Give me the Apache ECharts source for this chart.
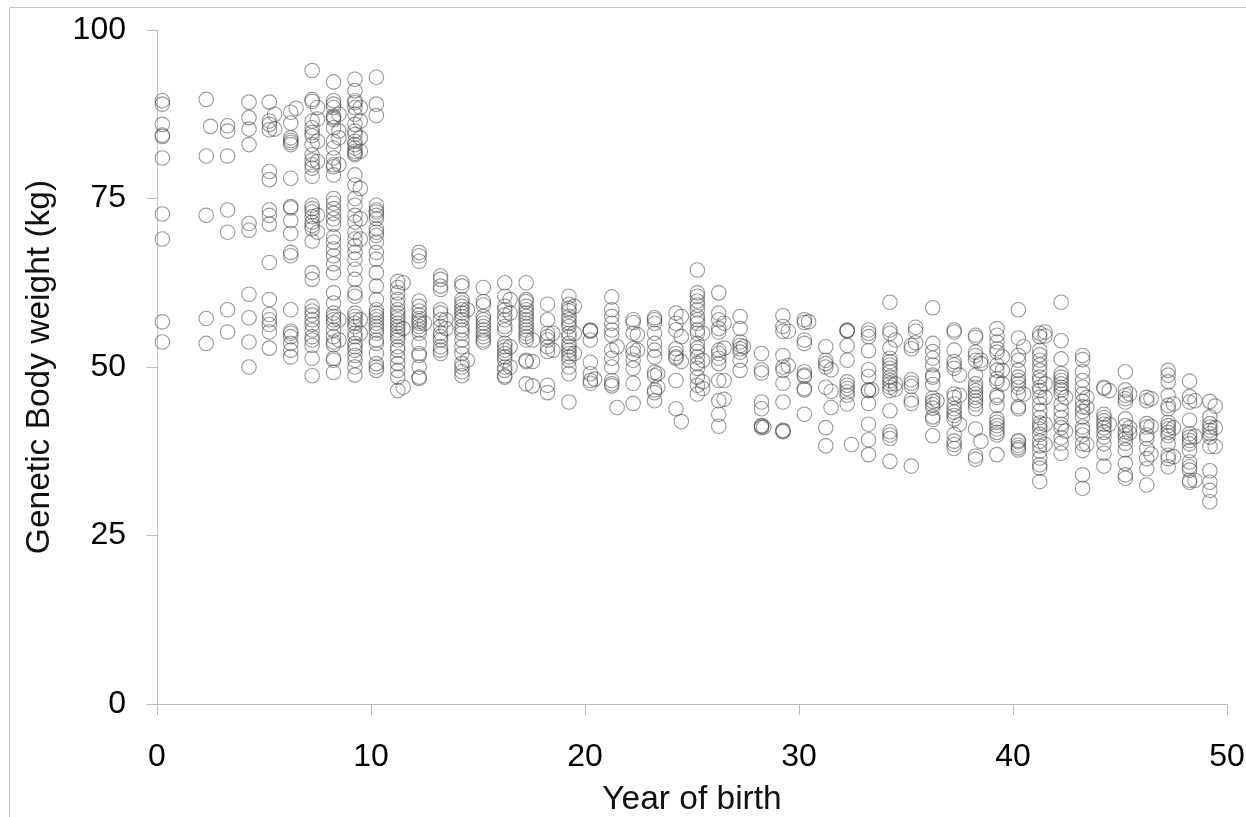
<!DOCTYPE html>
<html>
<head>
<meta charset="utf-8">
<style>html,body{margin:0;padding:0;background:#fff;overflow:hidden}#c{width:1246px;height:817px;filter:blur(0.45px)}</style>
<script src="https://cdn.jsdelivr.net/npm/echarts@6/dist/echarts.min.js"></script>
</head>
<body>
<div id="c"></div>
<script>
const xTicks = [0, 10, 20, 30, 40, 50];
const yTicks = [0, 25, 50, 75, 100];
const xTitle = "Year of birth";
const yTitle = "Genetic Body weight (kg)";

const birthYears = [
  0.25, 2.3, 2.5, 3.3, 4.3, 5.25, 5.5, 6.25, 6.5, 7.25, 7.5, 8.25, 8.5, 9.25, 9.5, 10.25,
  11.25, 11.5, 12.25, 12.5, 13.25, 13.5, 14.25, 14.5, 15.25, 16.25, 16.5, 17.25, 17.55, 18.25, 18.5,
  19.25, 19.5, 20.25, 20.45, 21.25, 21.5, 22.25, 22.45, 23.25, 23.4, 24.25, 24.5, 25.25, 25.5, 26.25, 26.5,
  27.25, 27.4, 28.25, 28.35, 29.25, 29.5, 30.25, 30.45, 31.25, 31.5, 32.25, 32.45, 33.25, 33.4,
  34.25, 34.5, 35.25, 35.45, 36.25, 36.45, 37.25, 37.5, 38.25, 38.5, 39.25, 39.5, 40.25, 40.5,
  41.25, 41.5, 42.25, 42.45, 43.25, 43.45, 44.25, 44.5, 45.25, 45.45, 46.25, 46.45, 47.25, 47.5,
  48.25, 48.5, 49.2, 49.45
];
const weightsByBirthYear = [
  [89.5,89,86,84.4,84.2,81,72.7,69,56.7,53.7],
  [89.7,81.3,72.5,57.2,53.5],
  [85.7],
  [85.8,85,81.3,73.3,70,58.5,55.2],
  [89.3,87,85.3,83,71.3,70.3,60.8,57.3,53.7,50],
  [89.3,86.5,86,85.2,79,77.8,73.3,72.5,71.2,65.5,60,57.8,57,56.3,55.2,52.8],
  [87.5,85.3],
  [87.8,86.2,84,83.6,83.3,83,78,73.8,73.6,71.7,69.8,67,66.5,58.5,55.3,55,54.5,53.5,52.5,51.5],
  [88.4],
  [94,89.7,89.4,86.5,85.5,84.8,84.3,83,81.5,80.7,80,79.5,78.3,74,73.5,73,72.3,71.5,71,70.5,68.7,64,63,59,58.3,57.7,57,56.3,55.5,54.5,54,53.2,51.3,48.7],
  [88.5,86.8,83.5,80.5,72.5,70],
  [92.3,89.5,89,88.5,87.2,87,86.7,85.5,83.5,82.5,81,80,79.7,78.5,75,74.3,73.5,72.8,72,71.2,69.3,68.5,67.5,66.5,65.3,64,61,59.5,58,57.5,57,56.5,55.5,54.5,53.7,53.3,51.3,51,49.2],
  [87.5,85,84,80,57,54],
  [92.7,91,89.5,89.2,88.5,87.5,86,85,84.5,83.5,83,82.5,82,81.7,81.5,78.5,77,75,74,72.5,71.5,70,69,68,67,66,64.5,63,61,60.5,58,57.5,57,56.5,56,55,54.5,53.5,53,52.5,51.7,51,50,48.8],
  [88.5,86.5,84,82,76.5,72,69,57,55],
  [93,89,87.3,74,73.3,73,72.5,72,70.5,70,69.5,68.5,67,66,64,62,60,58.5,58,57.5,57,56.5,56,55.5,55,54,53.5,52,50.5,50,49.5],
  [62.7,61.8,61,60,59.3,58.5,58,57.5,57,56.5,56,55.5,55,54.5,54,53,52.5,51.5,50.5,49.5,48.5,46.5],
  [62.5,55.7,47],
  [67,66.5,65.7,59.8,59,58.3,57.7,57.2,56.8,56.5,56,55.5,55,53.5,52,51.7,50,48.5,48.3],
  [56.5],
  [63.5,63,62,61.5,58.5,58,57,56,55,54.5,54,53,52.5,52],
  [57,55.7],
  [62.5,62,60,59.5,59,58.5,58,57.5,57,56,55.5,55,54,53,52,50.5,50,49.3,48.7],
  [58.5,51],
  [61.8,59.7,59.2,57.5,57,56.5,56,55.5,55,54.5,54,53.7],
  [62.5,60.5,59,58.5,57.7,57,56,55.5,53.5,53,52.5,52,51.5,51,50,49.5,48.7,48.5],
  [60,58,53,50],
  [62.5,60,59.7,59,58.5,58,57.5,57,56.5,56,55.5,55,54.5,54,51,50.8,47.5],
  [54,50.8,47.2],
  [59.3,57,55,54.5,54,53,52.3,47.3,46.2],
  [55,52.5],
  [60.5,59.3,58.7,58.3,57.5,57,56.5,56,55,54.5,53.5,53,52.5,52,51.5,51,50,49,44.8],
  [59,55,52],
  [55.5,55.4,55.3,54,50.7,49,48,47.6],
  [48.2],
  [60.4,58.5,57.5,56.5,55.5,54.7,52.5,51.3,50,48,47.5,47.2],
  [53,44],
  [57,56.6,55,52.7,52,51,49.8,47.6,44.6],
  [54.8,52.5],
  [57.3,57,56.5,55,53.5,52.5,51.5,49.2,48.7,46.6,46.2,45],
  [49,47],
  [58,56.5,55.5,52.7,52,51.5,51.3,48,43.8],
  [57.5,54.5,50.8,41.9],
  [64.4,61,60.5,59.8,59.2,58.5,57.5,57,56.5,55.5,55,53.5,52.8,52.3,51.5,50.5,49.8,48.5,47.3,46],
  [55,51,47.8,46.8],
  [61,58,57,55.7,55.2,52.5,52,51.3,50.5,48,45,43,41.2],
  [56.5,52.8,48,45.2],
  [57.5,55.7,53.7,53.2,52.7,52.2,51,49.5],
  [53],
  [52,49.6,49.1,44.8,43.8,41.3,41.2,41],
  [41.1],
  [57.6,56,55.3,51.7,50,49.5,47.6,44.8,40.6,40.5,40.4],
  [50.2,55.3],
  [57,56.6,54,53.5,49.3,48.8,48.6,46.8,46.6,43],
  [56.7],
  [53,51,50.5,50,47,41,38.3],
  [49.6,46.4,44],
  [55.5,55.4,55.3,53.2,51,47.8,47.3,46.8,46.3,45.8,44.5],
  [38.5],
  [55.5,55,54.5,52.4,49.6,48.6,46.6,46.5,44.6,41.5,39.2,37],
  [46.6],
  [59.6,55.5,55,52.8,51.3,50.8,50.3,49.8,49.3,48.5,48,47.5,47,46.5,43.5,40.4,39.9,39.4,36],
  [54,47.5,46.7],
  [53.2,52.7,48.1,47.6,47.1,45.1,44.6,35.3],
  [55.9,55.3,53.6],
  [58.8,53.5,52.3,51.3,50.3,48.8,48.5,47.4,45.4,44.9,44.4,43.9,42.6,42.2,39.8],
  [45],
  [55.5,55.2,52.5,50.8,50.3,49.8,46,45.5,44.5,43.8,43.3,42.8,42.3,40,39,38.5,37.9],
  [48.8,45.8,41.5],
  [54.7,54.4,52.2,51.7,51,48.8,47.5,47,46.5,46,45.5,45,44.5,43.8,40.8,36.8,36.3],
  [51,50.5,39],
  [55.7,54.7,53.7,52.7,52.2,50.3,49.5,48.3,47.8,45.8,45.5,44.3,42.3,41.8,41.3,40.8,40.3,39.9,37],
  [51.5,49.5,47.5],
  [58.5,54.3,51.7,51,49.5,48.5,48,47.5,47,46,44.1,43.8,39.1,38.9,38.4,38,37.7],
  [53,46],
  [55,54.5,52.5,51.8,51,50.3,49.5,48.5,48,47,46.5,45.5,44.5,43.5,42.5,41.7,41.2,40.8,40,39,38.3,37.5,36.5,35.5,35,33],
  [55.2,54.6,47.5,45.5,41.5,38.5],
  [59.6,53.9,51.2,49,48.5,48,47.5,47,46.6,46,44.5,43.5,42.5,41.5,41,39.5,38.7,37.2],
  [45.5,40.5],
  [51.7,51.1,49.3,48,47,46,44.9,44.1,43.4,42.6,41.1,40.6,39.9,38.6,37.6,34,32],
  [45.5,44,38.5],
  [47,46.8,43,42.5,42,41.5,41,40.3,39.6,38.6,37.2,35.3],
  [46.5,41.5],
  [49.3,46.6,45.8,45.3,44.8,42.3,41.3,40.4,39.9,39.4,38.7,37.7,35.7,34,33.5],
  [46,41,40.2],
  [45.5,45,41.6,41.1,39.9,39.4,37.9,36.4,34.9,32.5],
  [45.3,41.2,37.1],
  [49.5,48.8,47.8,45.8,44.3,43.8,41.8,41.3,40.8,40.3,39.8,38.6,36.9,36.4,35.2],
  [44.5,41,36.7],
  [47.9,45.6,44.8,42.1,40.1,39.6,39.1,38.6,37.6,35.9,35.2,34.7,33.2,32.9],
  [45,39.7,33.2],
  [44.9,42.6,41.6,41.1,40.6,40.1,39.6,38.2,34.6,32.9,31.7,30],
  [44.2,41,38.2]
];

const points = [];
birthYears.forEach((year, i) => {
  weightsByBirthYear[i].forEach(w => points.push([year, w]));
});

const greyLine = '#bdbdbd';
const chart = echarts.init(document.getElementById('c'), null, {renderer: 'canvas'});
chart.setOption({
  animation: false,
  backgroundColor: '#ffffff',
  textStyle: {fontFamily: '"Liberation Sans", Arial, sans-serif'},
  graphic: [{
    type: 'rect', silent: true, z: 0,
    shape: {x: 9.5, y: 7.5, width: 1300, height: 900},
    style: {fill: 'none', stroke: '#c4c4c4', lineWidth: 1}
  }],
  grid: {left: 157, top: 30, width: 1070, height: 674, containLabel: false, outerBoundsMode: 'none'},
  xAxis: {
    type: 'value', min: xTicks[0], max: xTicks[xTicks.length - 1], interval: 10,
    name: xTitle, nameLocation: 'middle', nameGap: 79,
    nameTextStyle: {fontSize: 33.5, color: '#111', fontFamily: '"Liberation Sans", Arial, sans-serif'},
    splitLine: {show: false},
    axisLine: {show: true, onZero: false, lineStyle: {color: greyLine, width: 1}},
    axisTick: {show: true, length: 11, lineStyle: {color: greyLine, width: 1}},
    axisLabel: {margin: 37, fontSize: 32, color: '#000', showMinLabel: true, showMaxLabel: true, hideOverlap: false}
  },
  yAxis: {
    type: 'value', min: yTicks[0], max: yTicks[yTicks.length - 1], interval: 25,
    name: yTitle, nameLocation: 'middle', nameGap: 100, nameRotate: 90,
    nameTextStyle: {fontSize: 33.5, color: '#111', fontFamily: '"Liberation Sans", Arial, sans-serif'},
    splitLine: {show: false},
    axisLine: {show: true, onZero: false, lineStyle: {color: greyLine, width: 1}},
    axisTick: {show: true, length: 10, lineStyle: {color: greyLine, width: 1}},
    axisLabel: {margin: 31, fontSize: 32, color: '#000', showMinLabel: true, showMaxLabel: true}
  },
  series: [{
    type: 'scatter',
    data: points,
    symbol: 'circle',
    symbolSize: 14.5,
    clip: false,
    silent: true,
    itemStyle: {color: 'rgba(255,255,255,0)', borderColor: 'rgba(70,70,70,0.55)', borderWidth: 1.1, opacity: 1}
  }]
});
</script>
</body>
</html>
